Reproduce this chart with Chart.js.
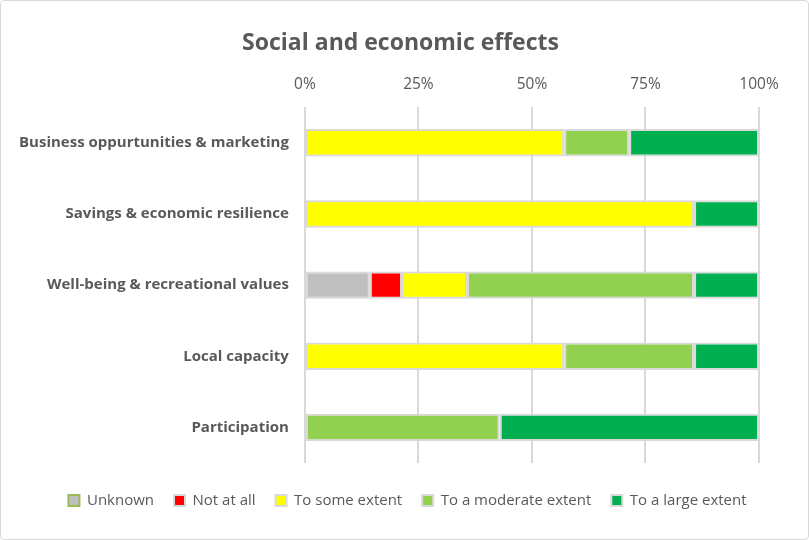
<!DOCTYPE html>
<html>
<head>
<meta charset="utf-8">
<script src="https://cdn.jsdelivr.net/npm/chart.js@4"></script>
<style>
  html,body{margin:0;padding:0;background:#fff;}
  #wrap{position:relative;width:809px;height:540px;}
  #frame{position:absolute;left:0;top:0;width:807px;height:538px;border:1px solid #d9d9d9;border-radius:4px;pointer-events:none;}
</style>
</head>
<body>
<div id="wrap">
<canvas id="c" width="809" height="540"></canvas>
<div id="frame"></div>
</div>
<script>
const categories = ["Business oppurtunities & marketing","Savings & economic resilience","Well-being & recreational values","Local capacity","Participation"];
const unknown    = [null, null, 14.3, null, null];
const notAtAll   = [null, null, 7.1, null, null];
const someExtent = [57.1, 85.7, 14.3, 57.1, null];
const moderate   = [14.3, null, 50.0, 28.6, 42.9];
const large      = [28.6, 14.3, 14.3, 14.3, 57.1];
const seriesNames = ["Unknown","Not at all","To some extent","To a moderate extent","To a large extent"];
const xTicks = [0,25,50,75,100];

const colors = ["#bfbfbf","#ff0000","#ffff00","#92d050","#00b050"];
const seriesData = [unknown, notAtAll, someExtent, moderate, large];
const FONT = "'Open Sans', sans-serif";
const TXT = "#595959";

// empty layout box that adds a gap between the plot area and the legend,
// and re-centre title and legend on the whole canvas
const spacerPlugin = {
  id: 'spacer',
  beforeInit(chart) {
    const box = {
      position: 'bottom', weight: 500, fullSize: true, options: {},
      top: 0, left: 0, right: 0, bottom: 0, width: 0, height: 0,
      isHorizontal() { return true; },
      update(maxWidth) { this.width = maxWidth; this.height = 10; },
      draw() {}
    };
    Chart.layouts.addBox(chart, box);
  },
  beforeDraw(chart) {
    const t = chart.titleBlock;
    if (t) { t.left = 0; t.right = chart.width - 8; t.width = t.right; }
    const l = chart.legend;
    if (l) { l.left = 0; l.right = chart.width + 6; l.width = l.right; }
  }
};

const chart = new Chart(document.getElementById('c'), {
  type: 'bar',
  data: {
    labels: categories,
    datasets: seriesData.map((d,i)=>({
      label: seriesNames[i],
      data: d,
      backgroundColor: colors[i],
      borderColor: '#d9d9d9',
      borderWidth: 2,
      borderSkipped: false,
      categoryPercentage: 0.55,
      barPercentage: 0.7
    }))
  },
  plugins: [spacerPlugin],
  options: {
    indexAxis: 'y',
    responsive: false,
    animation: false,
    layout: { padding: { left: 11, right: 50, top: 8, bottom: 22 } },
    plugins: {
      title: {
        display: true,
        text: 'Social and economic effects',
        color: TXT,
        font: { family: FONT, size: 23, weight: 'bold' },
        padding: { top: 22, bottom: 5 }
      },
      legend: {
        position: 'bottom',
        labels: {
          color: TXT,
          font: { family: FONT, size: 15 },
          boxWidth: 11, boxHeight: 11,
          padding: 20,
          generateLabels(ch){
            return ch.data.datasets.map((ds,i)=>({
              text: ds.label,
              fillStyle: ds.backgroundColor,
              strokeStyle: i===0 ? '#9bbb59' : '#d9d9d9',
              lineWidth: 2,
              fontColor: TXT,
              hidden: false,
              datasetIndex: i
            }));
          }
        }
      },
      tooltip: { enabled: false }
    },
    scales: {
      x: {
        position: 'top',
        stacked: true,
        min: 0, max: 100,
        afterBuildTicks(axis){ axis.ticks = xTicks.map(v=>({value:v})); },
        ticks: { color: TXT, font: { family: FONT, size: 15.5 }, callback: v => v + '%', padding: 13 },
        grid: { color: '#d9d9d9', lineWidth: 2, drawTicks: false },
        border: { display: false }
      },
      y: {
        stacked: true,
        ticks: { color: TXT, font: { family: FONT, size: 15, weight: 'bold' }, padding: 8 },
        grid: { display: false },
        border: { display: false }
      }
    }
  }
});
</script>
</body>
</html>
